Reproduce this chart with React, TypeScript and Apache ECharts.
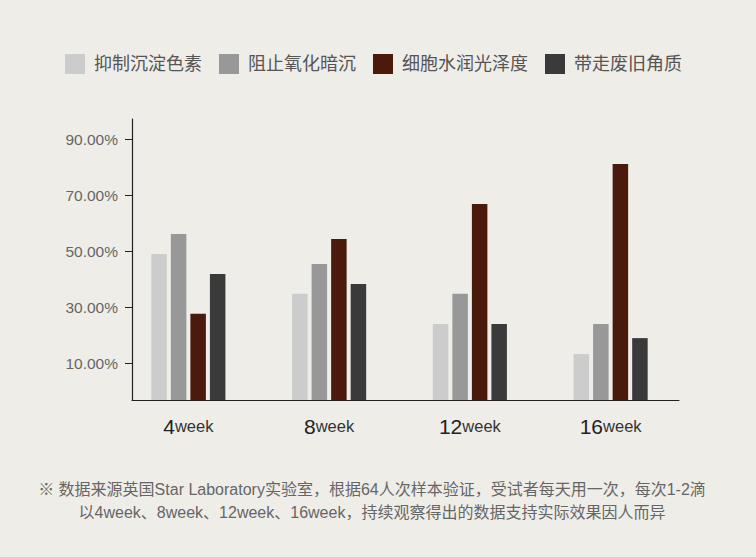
import React, { useEffect, useRef } from "react";
import * as echarts from "echarts";

const categories = ["4week", "8week", "12week", "16week"];
const seriesNames = ["抑制沉淀色素", "阻止氧化暗沉", "细胞水润光泽度", "带走废旧角质"];
const s1 = [49.0, 34.8, 24.0, 13.3];
const s2 = [56.2, 45.5, 34.8, 24.0];
const s3 = [27.7, 54.4, 66.9, 81.2];
const s4 = [41.9, 38.3, 24.0, 19.0];
const seriesValues = [s1, s2, s3, s4];
const colors = ["#cccccc", "#989898", "#4a1b0c", "#3a3a3a"];
const yTicks = [10, 30, 50, 70, 90];
const Y_MIN = -3.1;
const Y_MAX = 97.25;
const note1 = "※ 数据来源英国Star Laboratory实验室，根据64人次样本验证，受试者每天用一次，每次1-2滴";
const note2 = "以4week、8week、12week、16week，持续观察得出的数据支持实际效果因人而异";

const FONT = '"Liberation Sans", "Noto Sans CJK SC", sans-serif';

export default function App() {
  const ref = useRef<HTMLDivElement>(null);
  useEffect(() => {
    document.body.style.margin = "0";
    document.body.style.background = "#efede8";
    if (!ref.current) return;
    const chart = echarts.init(ref.current, undefined, { renderer: "svg" });
    const option: any = {
      animation: false,
      backgroundColor: "#efede8",
      textStyle: { fontFamily: FONT },
      legend: {
        left: 60,
        top: 49,
        itemWidth: 20,
        itemHeight: 20,
        itemGap: 17,
        icon: "rect",
        data: seriesNames,
        textStyle: { fontSize: 18, color: "#555", fontFamily: FONT, padding: [0, 0, 0, 4] },
      },
      grid: [
        { left: 118, right: 75, top: 119, bottom: 157 },
        { left: 132, right: 77, top: 119, bottom: 157 },
      ],
      xAxis: [
        {
          type: "category",
          gridIndex: 0,
          data: categories,
          axisLine: { show: false, onZero: false },
          axisTick: { show: false },
          axisLabel: {
            margin: 16,
            formatter: (val: string) => {
              const m = val.match(/^(\d+)(.*)$/);
              return m ? `{n|${m[1]}}{u|${m[2]}}` : val;
            },
            rich: {
              n: { fontSize: 21, color: "#222", fontFamily: FONT },
              u: { fontSize: 16.5, color: "#333", fontFamily: FONT },
            },
          },
        },
        {
          type: "category",
          gridIndex: 1,
          data: categories,
          axisLine: { show: true, onZero: false, lineStyle: { color: "#222", width: 1.2 } },
          axisTick: { show: false },
          axisLabel: { show: false },
        },
      ],
      yAxis: [
        {
          type: "value",
          gridIndex: 0,
          min: 0,
          max: Y_MAX - Y_MIN,
          show: false,
          splitLine: { show: false },
        },
        {
          type: "value",
          gridIndex: 1,
          min: Y_MIN,
          max: Y_MAX,
          axisLine: { show: true, onZero: false, lineStyle: { color: "#222", width: 1.2 } },
          axisTick: { show: true, length: 7, customValues: yTicks, lineStyle: { color: "#222" } },
          axisLabel: {
            customValues: yTicks,
            margin: 14,
            fontSize: 15.5,
            color: "#666",
            fontFamily: FONT,
            formatter: (v: number) => v.toFixed(2) + "%",
          },
          splitLine: { show: false },
        },
      ],
      series: seriesValues.map((vals, i) => ({
        name: seriesNames[i],
        type: "bar",
        xAxisIndex: 0,
        yAxisIndex: 0,
        barWidth: 15.5,
        barGap: "26%",
        itemStyle: { color: colors[i] },
        data: vals.map((v) => v - Y_MIN),
      })),
      graphic: [
        {
          type: "text",
          x: 372,
          y: 489,
          style: {
            text: note1,
            fontSize: 16,
            fontFamily: FONT,
            fill: "#666",
            align: "center",
            verticalAlign: "middle",
          },
        },
        {
          type: "text",
          x: 372,
          y: 512,
          style: {
            text: note2,
            fontSize: 16,
            fontFamily: FONT,
            fill: "#666",
            align: "center",
            verticalAlign: "middle",
          },
        },
      ],
    };
    chart.setOption(option);
    return () => chart.dispose();
  }, []);
  return <div ref={ref} style={{ width: 756, height: 557 }} />;
}
